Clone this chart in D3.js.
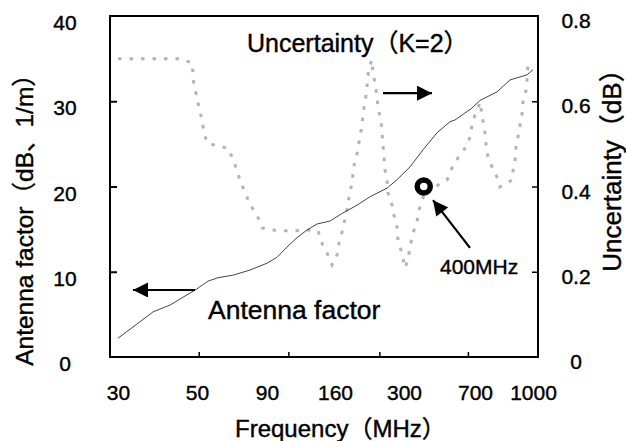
<!DOCTYPE html>
<html><head><meta charset="utf-8">
<script src="https://cdn.jsdelivr.net/npm/d3@7"></script>
<style>
html,body{margin:0;padding:0;background:#fff;}
text{font-family:"Liberation Sans",Arial,"Noto Sans CJK JP",sans-serif;fill:#000;stroke:#000;stroke-width:0.4px;}
</style></head>
<body>
<svg id="c" width="626" height="441"></svg>
<script>
// ---------- data ----------
const xTickLabels = [30, 50, 90, 160, 300, 700, 1000];
const xMarkTicks = [51, 112, 250, 660];
const yLeftTicks = [0, 10, 20, 30, 40];
const yRightTicks = [0, 0.2, 0.4, 0.6, 0.8];

const afFreq = [30, 38.9, 43.2, 50, 56.3, 62, 70.6, 80.3, 90, 100.3, 110.6, 120.9, 131.2, 141.5, 154.9, 176.2, 204.6, 231, 265.5, 285.8, 333.8, 407, 486, 559, 587, 683, 726, 814, 881, 969, 1000];
const afValue = [2.2, 5.3, 6.1, 8.0, 8.9, 9.3, 9.6, 10.2, 11.0, 11.7, 12.9, 14.0, 14.9, 15.6, 15.95, 16.9, 17.8, 18.8, 19.8, 20.8, 22.3, 24.3, 26.3, 27.6, 27.8, 29.2, 30.1, 31.1, 32.5, 33.1, 33.7];

const uFreq = [30, 33.5, 36.8, 39.9, 42.9, 46, 48.7, 49, 49.2, 50, 51.1, 52.9, 54, 55.7, 62, 67.7, 70.6, 72.9, 75.1, 78, 79.7, 84.3, 87.1, 94.1, 105.4, 116.8, 131.2, 142.5, 146.6, 151.8, 156.9, 164, 168.1, 174.2, 184.3, 188.4, 194.5, 198.6, 202.6, 206.7, 210.7, 214.8, 216.8, 220.9, 225, 226, 231, 235.1, 237.1, 241.2, 245.2, 247.2, 253.3, 255.4, 257.4, 259.4, 261.4, 265.5, 267.5, 275.7, 279.7, 285.8, 287.8, 293.9, 298, 305.6, 322.5, 333.8, 350.7, 373.2, 384.5, 407, 418, 474.6, 542, 570, 604, 644, 672, 683, 700, 715.5, 726, 736, 752, 757, 767, 788, 814, 829, 891, 896, 907, 912, 922, 933, 943, 948, 964, 969, 974];
const uValue = [0.70, 0.70, 0.70, 0.70, 0.70, 0.70, 0.69, 0.666, 0.638, 0.61, 0.584, 0.556, 0.528, 0.502, 0.495, 0.49, 0.464, 0.436, 0.408, 0.382, 0.361, 0.333, 0.303, 0.298, 0.296, 0.296, 0.298, 0.296, 0.267, 0.244, 0.216, 0.239, 0.267, 0.293, 0.345, 0.375, 0.408, 0.45, 0.462, 0.49, 0.516, 0.544, 0.572, 0.598, 0.631, 0.657, 0.685, 0.697, 0.666, 0.643, 0.61, 0.584, 0.556, 0.525, 0.497, 0.469, 0.439, 0.415, 0.385, 0.357, 0.333, 0.305, 0.274, 0.251, 0.232, 0.209, 0.228, 0.258, 0.291, 0.317, 0.345, 0.373, 0.396, 0.399, 0.415, 0.443, 0.467, 0.49, 0.516, 0.544, 0.568, 0.584, 0.598, 0.568, 0.525, 0.497, 0.469, 0.446, 0.422, 0.399, 0.415, 0.434, 0.462, 0.493, 0.516, 0.544, 0.568, 0.598, 0.626, 0.65, 0.69];

const markFreq = [400];
const markValue = [0.4];

// ---------- layout ----------
const svg = d3.select("#c");
const M = {left: 110, top: 16, right: 88, bottom: 84};
const W = 626 - M.left - M.right, H = 441 - M.top - M.bottom;
const g = svg.append("g").attr("transform", `translate(${M.left},${M.top})`);

const xRange = [8, 87, 157, 225, 294, 365, 423];
const x = d3.scaleLinear().domain(xTickLabels).range(xRange);
const yL = d3.scaleLinear().domain([0, 40]).range([H, 0]);
const yR = d3.scaleLinear().domain([0, 0.8]).range([H, 0]);

// frame
g.append("rect").attr("x", 0).attr("y", 0).attr("width", W).attr("height", H)
  .attr("fill", "none").attr("stroke", "#000").attr("stroke-width", 2);

// inward tick marks
g.append("g").call(d3.axisLeft(yL).tickValues([10, 20, 30]).tickSize(-7).tickFormat(""))
  .call(a => a.select(".domain").remove()).selectAll("line").attr("stroke-width", 2);
g.append("g").attr("transform", `translate(${W},0)`)
  .call(d3.axisRight(yR).tickValues([0.2, 0.4, 0.6]).tickSize(-6).tickFormat(""))
  .call(a => a.select(".domain").remove()).selectAll("line").attr("stroke-width", 1.5);
g.append("g").attr("transform", `translate(0,${H})`)
  .call(d3.axisBottom(x).tickValues(xMarkTicks).tickSize(-5).tickFormat(""))
  .call(a => a.select(".domain").remove()).selectAll("line").attr("stroke-width", 1.5);

// tick labels
const bx = g.append("g").attr("transform", `translate(0,${H})`)
  .call(d3.axisBottom(x).tickValues(xTickLabels).tickSize(0).tickPadding(28).tickFormat(d3.format("d")));
bx.select(".domain").remove();
bx.selectAll("text").style("font-size", "21px").attr("fill", "#000");

const ly = g.append("g").call(d3.axisLeft(yL).tickValues(yLeftTicks).tickSize(0).tickFormat(d3.format("d")));
ly.select(".domain").remove();
ly.selectAll("text").style("font-size", "21px").attr("text-anchor", "middle").attr("x", -45).attr("dy", "0.65em").attr("fill", "#000");

const ry = g.append("g").attr("transform", `translate(${W},0)`)
  .call(d3.axisRight(yR).tickValues(yRightTicks).tickSize(0).tickFormat(d => d === 0 ? "0" : d3.format(".1f")(d)));
ry.select(".domain").remove();
ry.selectAll("text").style("font-size", "21px").attr("text-anchor", "middle").attr("x", 38).attr("dy", "0.55em").attr("fill", "#000");

// uncertainty (dotted gray)
const uData = uFreq.map((f, i) => [f, uValue[i]]);
g.append("path").datum(uData)
  .attr("fill", "none").attr("stroke", "#b4b4b4").attr("stroke-width", 3)
  .attr("stroke-dasharray", "3.5,8")
  .attr("d", d3.line().x(d => x(d[0])).y(d => yR(d[1])));

// antenna factor line
const afData = afFreq.map((f, i) => [f, afValue[i]]);
g.append("path").datum(afData)
  .attr("fill", "none").attr("stroke", "#444").attr("stroke-width", 1)
  .attr("d", d3.line().x(d => x(d[0])).y(d => yL(d[1])));

// 400 MHz mark
g.selectAll("circle.mark").data(markFreq).join("circle").attr("class", "mark")
  .attr("cx", d => x(d) + 2).attr("cy", (d, i) => yR(markValue[i])).attr("r", 6.5)
  .attr("fill", "#fff").attr("stroke", "#000").attr("stroke-width", 5.5);

// arrows
svg.append("defs").append("marker").attr("id", "ah").attr("viewBox", "0 0 10 10")
  .attr("refX", 10).attr("refY", 5).attr("markerWidth", 17).attr("markerHeight", 15)
  .attr("markerUnits", "userSpaceOnUse").attr("orient", "auto")
  .append("path").attr("d", "M0,0 L10,5 L0,10 Z").attr("fill", "#000");
function arrow(x1, y1, x2, y2) {
  g.append("line").attr("x1", x1).attr("y1", y1).attr("x2", x2).attr("y2", y2)
    .attr("stroke", "#000").attr("stroke-width", 2.2).attr("marker-end", "url(#ah)");
}
arrow(x(49.5), yL(7.86), x(33.8), yL(7.86));
arrow(x(257.4), yR(0.619), x(457.7), yR(0.619));
arrow(x(671.8), yR(0.256), x(463.4), yR(0.368));

// annotation texts
svg.append("text").attr("x", 247).attr("y", 52).style("font-size", "25px").text("Uncertainty（K=2）");
svg.append("text").attr("x", 208).attr("y", 319).style("font-size", "26.5px").text("Antenna factor");
svg.append("text").attr("x", 440).attr("y", 274).style("font-size", "21px").text("400MHz");

// axis titles
svg.append("text").attr("x", 235).attr("y", 437).style("font-size", "24px").text("Frequency（MHz）");
svg.append("text").attr("transform", "translate(33,214) rotate(-90)").attr("text-anchor", "middle")
  .style("font-size", "24.5px").text("Antenna factor（dB、1/m）");
svg.append("text").attr("transform", "translate(621,164) rotate(-90)").attr("text-anchor", "middle")
  .style("font-size", "26px").text("Uncertainty（dB）");
</script>
</body></html>
